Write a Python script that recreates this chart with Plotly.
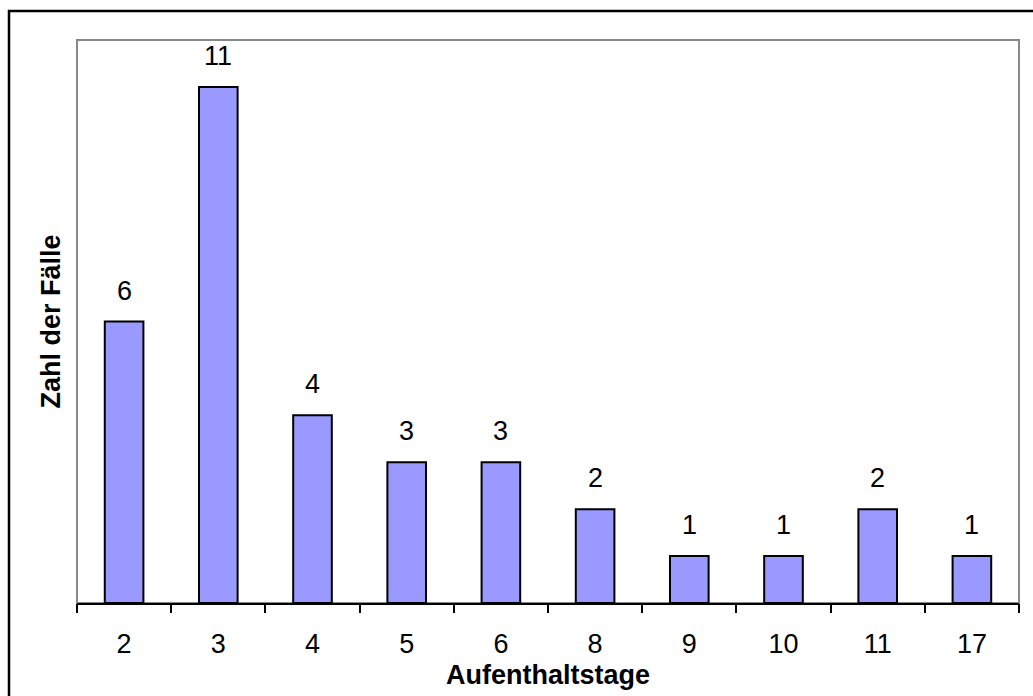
import plotly.graph_objects as go

# Length of stay (days) and number of cases
aufenthaltstage = ["2", "3", "4", "5", "6", "8", "9", "10", "11", "17"]
faelle = [6, 11, 4, 3, 3, 2, 1, 1, 2, 1]

FONT = "Arial, Liberation Sans, sans-serif"
FS = 27
W, H = 1033, 696
L, R, T, B = 77, 14, 40, 93
pw, ph = W - L - R, H - T - B

def px_x(x):
    return (x - L) / pw

def px_y(y):
    return (H - B - y) / ph

fig = go.Figure()
fig.add_trace(go.Bar(
    x=list(range(len(aufenthaltstage))),
    y=faelle,
    marker=dict(color="#9999FF", line=dict(color="black", width=2)),
    width=0.41,
    customdata=aufenthaltstage,
    hovertemplate="%{customdata}: %{y}<extra></extra>",
))

# value labels above each bar
for i, val in enumerate(faelle):
    fig.add_annotation(
        x=i, y=val, xref="x", yref="y",
        text=str(val), showarrow=False,
        yanchor="middle", yshift=31,
        font=dict(family=FONT, size=FS, color="black"),
    )

# axis titles
fig.add_annotation(
    x=0.5, y=px_y(675), xref="paper", yref="paper",
    text="<b>Aufenthaltstage</b>", showarrow=False,
    xanchor="center", yanchor="middle",
    font=dict(family=FONT, size=FS, color="black"),
)
fig.add_annotation(
    x=px_x(50), y=0.5, xref="paper", yref="paper",
    text="<b>Zahl der Fälle</b>", showarrow=False, textangle=-90,
    xanchor="center", yanchor="middle",
    font=dict(family=FONT, size=FS, color="black"),
)

# plot-area frame (gray) and outer chart frame (black)
fig.add_shape(type="rect", xref="paper", yref="paper",
              x0=0, x1=1, y0=0, y1=1,
              line=dict(color="#888888", width=2), layer="below")
fig.add_shape(type="rect", xref="paper", yref="paper",
              x0=px_x(9), x1=px_x(1045), y0=px_y(710), y1=px_y(11),
              line=dict(color="black", width=2.5), layer="above")

fig.update_layout(
    width=W, height=H,
    margin=dict(l=L, r=R, t=T, b=B),
    paper_bgcolor="white", plot_bgcolor="white",
    showlegend=False,
    font=dict(family=FONT, size=FS, color="black"),
)
fig.update_xaxes(
    type="linear",
    range=[-0.5, len(aufenthaltstage) - 0.5],
    tickmode="array",
    tickvals=list(range(len(aufenthaltstage))),
    ticktext=aufenthaltstage,
    ticks="", showline=True, linecolor="black", linewidth=2,
    tickfont=dict(family=FONT, size=FS, color="black"),
    ticklabelstandoff=16,
    showgrid=False, zeroline=False,
)
# boundary tick marks between categories, on a second overlaid axis
fig.update_layout(xaxis2=dict(
    overlaying="x", side="bottom",
    range=[-0.5, len(aufenthaltstage) - 0.5],
    tickmode="array",
    tickvals=[i - 0.5 for i in range(len(aufenthaltstage) + 1)],
    ticks="outside", ticklen=9, tickcolor="black", tickwidth=2,
    showticklabels=False, showgrid=False, zeroline=False, showline=False,
))
fig.add_trace(go.Scatter(x=[None], y=[None], xaxis="x2", showlegend=False,
                         hoverinfo="skip"))
fig.update_yaxes(
    range=[0, 12], showticklabels=False, ticks="",
    showgrid=False, zeroline=False, showline=False,
)

fig.write_html("out.html")
